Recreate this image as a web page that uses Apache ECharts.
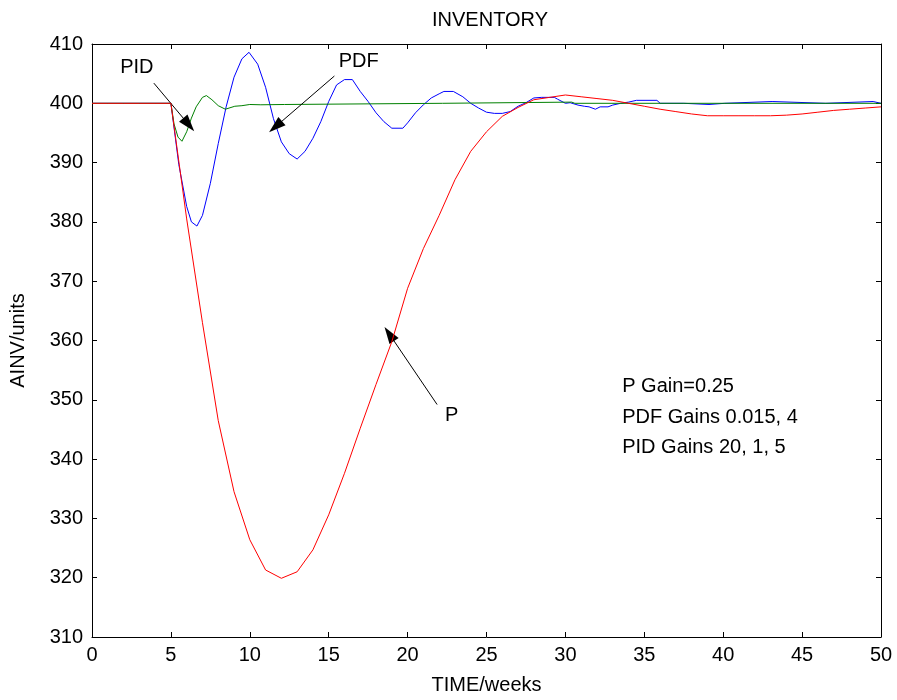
<!DOCTYPE html>
<html>
<head>
<meta charset="utf-8">
<script src="https://cdn.jsdelivr.net/npm/echarts@6/dist/echarts.min.js"></script>
<style>html,body{margin:0;padding:0;background:#fff}#c{width:897px;height:700px}</style>
</head>
<body>
<div id="c"></div>
<script>
// ---- data ----
const xTicks = [0, 5, 10, 15, 20, 25, 30, 35, 40, 45, 50];
const yTicks = [310, 320, 330, 340, 350, 360, 370, 380, 390, 400, 410];

// P controller (red)
const pTime = [0,1,2,3,4,5,6,7,8,9,10,11,12,13,14,15,16,17,18,19,20,21,22,23,24,25,26,27,28,29,30,31,32,33,34,35,36,37,38,39,40,41,42,43,44,45,46,47,48,49,50];
const pInv  = [400,400,400,400,400,400,380.5,363,346.5,334.5,326.4,321.3,319.9,321,324.7,330.6,337.6,345.2,352.6,359.8,368.8,375.5,381.1,387.1,391.9,395.2,397.8,399.3,400.6,401.0,401.4,401.1,400.8,400.5,400.0,399.5,399.0,398.6,398.2,397.9,397.9,397.9,397.9,397.9,398.0,398.2,398.5,398.8,399.0,399.2,399.4];

// PDF controller (blue)
const pdfTime = [0,5,5.5,6.0,6.3,6.65,7.0,7.5,8.0,8.5,9.0,9.5,9.95,10.5,11.0,11.5,12.0,12.5,13.0,13.5,14.0,14.5,15.0,15.5,16.0,16.5,17.0,17.5,18.0,18.5,19.0,19.7,20.0,20.5,21.0,21.5,22.0,22.3,22.9,23.5,24.0,24.5,25.0,25.5,26.0,26.5,27.0,27.5,28.0,28.5,29.3,29.5,30.0,30.3,30.8,31.2,31.5,31.9,32.2,32.7,33.0,33.5,34.0,34.5,35.8,36.0,37.5,37.6,39.1,39.2,40.1,40.2,43.1,43.2,46.5,46.6,49.5,49.6,50];
const pdfInv  = [400,400,389.7,382.6,380.0,379.3,381.1,386.5,393.2,399.4,404.4,407.5,408.6,406.6,402.7,397.4,393.5,391.5,390.6,391.9,394.1,396.9,400.3,403.1,404.0,404.0,402.0,400.3,398.4,396.9,395.8,395.8,396.7,398.4,399.75,400.9,401.6,402.0,402.0,401.1,400.0,399.2,398.5,398.3,398.3,398.6,399.5,400.1,400.9,401.0,401.0,400.7,400.0,400.1,399.7,399.5,399.4,399.0,399.4,399.4,399.7,400.0,400.2,400.5,400.5,400.0,400.0,399.8,399.8,400.0,400.0,400.3,400.3,400.0,400.0,400.3,400.3,400.0,400.0];

// PID controller (green)
const pidTime = [0,5.0,5.2,5.45,5.7,6.0,6.3,6.6,7.0,7.25,7.6,8.0,8.45,9.05,9.5,10.0,10.7,12.2,12.3,22.2,22.3,30.4,30.6,50];
const pidInv  = [400,400,396.5,394.3,393.6,395.2,397.5,399.4,401.0,401.3,400.6,399.6,399.0,399.5,399.6,399.8,399.75,399.8,400.0,400.0,400.2,400.2,400.0,400.0];

// annotations
const arrowLabels = ['PID', 'PDF', 'P'];
const arrowText   = [[2.84, 406.0], [16.9, 407.0], [22.8, 347.3]];
const arrowFrom   = [[3.92, 403.4], [15.36, 404.6], [21.87, 349.2]];
const arrowTo     = [[6.13, 396.4], [11.63, 396.05], [18.84, 361.1]];
const noteLines   = ['P Gain=0.25', 'PDF Gains 0.015, 4', 'PID Gains 20, 1, 5'];
const noteX = 33.6;
const noteY = [352.2, 347.1, 341.9];

// ---- chart ----
const FONT = "'Liberation Sans', Arial, sans-serif";
const FS = 20;
const zip = (a, b) => a.map((v, i) => [v, b[i]]);

const axisCommon = {
  axisLine: { show: true, onZero: false, lineStyle: { color: '#000', width: 1 } },
  axisTick: { show: true, inside: true, length: 5, lineStyle: { color: '#000', width: 1 } },
  splitLine: { show: false }
};

const chart = echarts.init(document.getElementById('c'), null, { renderer: 'canvas' });
chart.setOption({
  animation: false,
  backgroundColor: '#fff',
  title: {
    text: 'INVENTORY', left: 485, top: 5, textAlign: 'center',
    textStyle: { fontFamily: FONT, fontSize: FS, fontWeight: 'normal', color: '#000' }
  },
  grid: { left: 90, right: 16, top: 44, bottom: 61, show: false },
  xAxis: [
    Object.assign({
      type: 'value', min: xTicks[0], max: xTicks[xTicks.length - 1], interval: 5,
      name: 'TIME/weeks', nameLocation: 'middle', nameGap: 38,
      nameTextStyle: { fontFamily: FONT, fontSize: FS, color: '#000' },
      axisLabel: { show: true, margin: 8, fontFamily: FONT, fontSize: FS, color: '#000' }
    }, axisCommon),
    Object.assign({
      type: 'value', position: 'top', min: 0, max: 50, interval: 5,
      axisLabel: { show: false }
    }, axisCommon)
  ],
  yAxis: [
    Object.assign({
      type: 'value', min: yTicks[0], max: yTicks[yTicks.length - 1], interval: 10,
      name: 'AINV/units', nameLocation: 'middle', nameGap: 64,
      nameTextStyle: { fontFamily: FONT, fontSize: FS, color: '#000' },
      axisLabel: { show: true, margin: 9, fontFamily: FONT, fontSize: FS, color: '#000' }
    }, axisCommon),
    Object.assign({
      type: 'value', position: 'right', min: 310, max: 410, interval: 10,
      axisLabel: { show: false }
    }, axisCommon)
  ],
  series: [
    {
      name: 'PDF', type: 'line', data: zip(pdfTime, pdfInv), showSymbol: false, symbol: 'none',
      lineStyle: { color: '#0000ff', width: 1 }, z: 3, silent: true
    },
    {
      name: 'PID', type: 'line', data: zip(pidTime, pidInv), showSymbol: false, symbol: 'none',
      lineStyle: { color: '#008000', width: 1 }, z: 4, silent: true
    },
    {
      name: 'P', type: 'line', data: zip(pTime, pInv), showSymbol: false, symbol: 'none',
      lineStyle: { color: '#ff0000', width: 1 }, z: 5, silent: true
    },
    {
      name: 'annot', type: 'line', data: [], silent: true, z: 6,
      markLine: {
        silent: true, animation: false,
        symbol: ['none', 'triangle'], symbolSize: [11, 17],
        label: { show: false },
        lineStyle: { color: '#000', width: 1, type: 'solid' },
        emphasis: { disabled: true },
        data: arrowFrom.map((f, i) => [{ coord: f }, { coord: arrowTo[i] }])
      },
      markPoint: {
        silent: true, animation: false, symbol: 'circle', symbolSize: 0,
        itemStyle: { color: 'rgba(0,0,0,0)' },
        data: arrowLabels.map((t, i) => ({
          coord: arrowText[i], value: t,
          label: { show: true, position: 'inside', formatter: t, fontFamily: FONT, fontSize: FS, color: '#000' }
        })).concat(noteLines.map((t, i) => ({
          coord: [noteX, noteY[i]], value: t,
          label: { show: true, position: 'right', distance: 0, formatter: t, fontFamily: FONT, fontSize: FS, color: '#000' }
        })))
      }
    }
  ]
});
</script>
</body>
</html>
